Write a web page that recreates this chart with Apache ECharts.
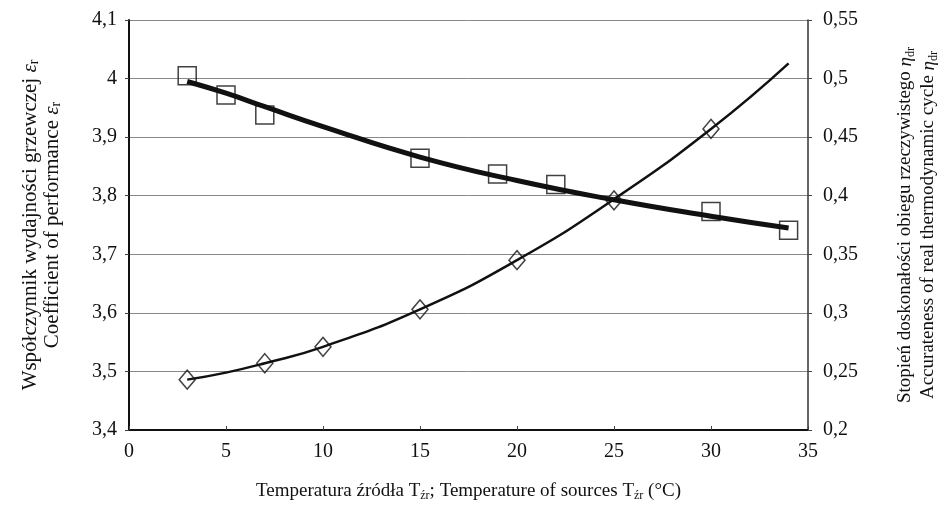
<!DOCTYPE html>
<html>
<head>
<meta charset="utf-8">
<script src="https://cdn.jsdelivr.net/npm/echarts@6/dist/echarts.min.js"></script>
<style>
    html, body { margin: 0; padding: 0; background: #fff; }
    #chart { width: 945px; height: 521px; }
</style>
</head>
<body>
<div id="chart"></div>
<script>
// dane
const copX = [3, 5, 7, 15, 19, 22, 30, 34];
const copY = [4.005, 3.972, 3.938, 3.864, 3.837, 3.819, 3.773, 3.741];
const copTrendX = [3, 5, 7, 10, 15, 20, 25, 30, 34];
const copTrendY = [3.995, 3.975, 3.952, 3.918, 3.866, 3.826, 3.793, 3.765, 3.745];

const effX = [3, 7, 10, 15, 20, 25, 30];
const effY = [0.243, 0.257, 0.271, 0.303, 0.345, 0.396, 0.457];
const effTrendX = [3, 5, 7, 10, 15, 20, 25, 30, 34];
const effTrendY = [0.243, 0.249, 0.257, 0.271, 0.303, 0.345, 0.397, 0.457, 0.513];

const FONT = '"Liberation Serif", "DejaVu Serif", serif';

function pairs(xs, ys) {
    return xs.map((x, i) => [x, ys[i]]);
}

function commaLabel(v) {
    return String(Math.round(v * 100) / 100).replace('.', ',');
}

function richFor(size) {
    return {
        sub: { fontSize: Math.round(size * 0.65), fontFamily: FONT, color: '#111', verticalAlign: 'bottom', padding: [Math.round(size * 0.5), 0, 0, 0] },
        it: { fontSize: size, fontFamily: FONT, fontStyle: 'italic', color: '#111' }
    };
}

const chart = echarts.init(document.getElementById('chart'));
chart.setOption({
    animation: false,
    backgroundColor: '#fff',
    grid: { left: 129, right: 137, top: 20, bottom: 91, outerBoundsMode: 'none', containLabel: false },
    xAxis: {
        type: 'value',
        min: 0,
        max: 35,
        interval: 5,
        name: 'Temperatura źródła T{sub|źr}; Temperature of sources T{sub|źr} (°C)',
        nameLocation: 'middle',
        nameGap: 50,
        nameTextStyle: { fontFamily: FONT, fontSize: 19, color: '#111', rich: richFor(19) },
        axisLine: { lineStyle: { color: '#111', width: 2 } },
        axisTick: { inside: true, length: 4, lineStyle: { color: '#444' } },
        axisLabel: { fontFamily: FONT, fontSize: 20, color: '#111', margin: 12 },
        splitLine: { show: false }
    },
    yAxis: [{
        type: 'value',
        min: 3.4,
        max: 4.1,
        interval: 0.1,
        name: 'Współczynnik wydajności grzewczej {it|ε}{sub|r}\nCoefficient of performance {it|ε}{sub|r}',
        nameLocation: 'middle',
        nameRotate: 90,
        nameGap: 66,
        nameTextStyle: { fontFamily: FONT, fontSize: 21, color: '#111', lineHeight: 22, rich: richFor(21) },
        axisLine: { show: true, lineStyle: { color: '#111', width: 2 } },
        axisTick: { show: true, length: 4, lineStyle: { color: '#444' } },
        axisLabel: {
            fontFamily: FONT, fontSize: 20, color: '#111', margin: 12,
            formatter: v => commaLabel(v)
        },
        splitLine: { show: true, lineStyle: { color: '#888', width: 1 } }
    }, {
        type: 'value',
        min: 0.2,
        max: 0.55,
        interval: 0.05,
        position: 'right',
        name: 'Stopień doskonałości obiegu rzeczywistego {it|η}{sub|dr}\nAccurateness of real thermodynamic cycle {it|η}{sub|dr}',
        nameLocation: 'middle',
        nameRotate: 90,
        nameGap: 86,
        nameTextStyle: { fontFamily: FONT, fontSize: 19, color: '#111', lineHeight: 23, rich: richFor(19) },
        axisLine: { show: true, lineStyle: { color: '#333', width: 1.5 } },
        axisTick: { show: true, length: 4, lineStyle: { color: '#444' } },
        axisLabel: {
            fontFamily: FONT, fontSize: 20, color: '#111', margin: 15,
            formatter: v => commaLabel(v)
        },
        splitLine: { show: false }
    }],
    series: [
        {
            // linia trendu COP
            type: 'line',
            yAxisIndex: 0,
            smooth: true,
            showSymbol: false,
            lineStyle: { color: '#111', width: 5 },
            data: pairs(copTrendX, copTrendY),
            z: 2
        },
        {
            type: 'scatter',
            yAxisIndex: 0,
            symbol: 'rect',
            symbolSize: 18,
            itemStyle: { color: 'rgba(255,255,255,0)', borderColor: '#111', borderWidth: 1.5 },
            data: pairs(copX, copY),
            z: 3
        },
        {
            // linia trendu sprawności
            type: 'line',
            yAxisIndex: 1,
            smooth: true,
            showSymbol: false,
            lineStyle: { color: '#111', width: 2.5 },
            data: pairs(effTrendX, effTrendY),
            z: 2
        },
        {
            type: 'scatter',
            yAxisIndex: 1,
            symbol: 'diamond',
            symbolSize: [16, 19],
            itemStyle: { color: 'rgba(255,255,255,0)', borderColor: '#111', borderWidth: 1.5 },
            data: pairs(effX, effY),
            z: 3
        }
    ]
});
</script>
</body>
</html>
